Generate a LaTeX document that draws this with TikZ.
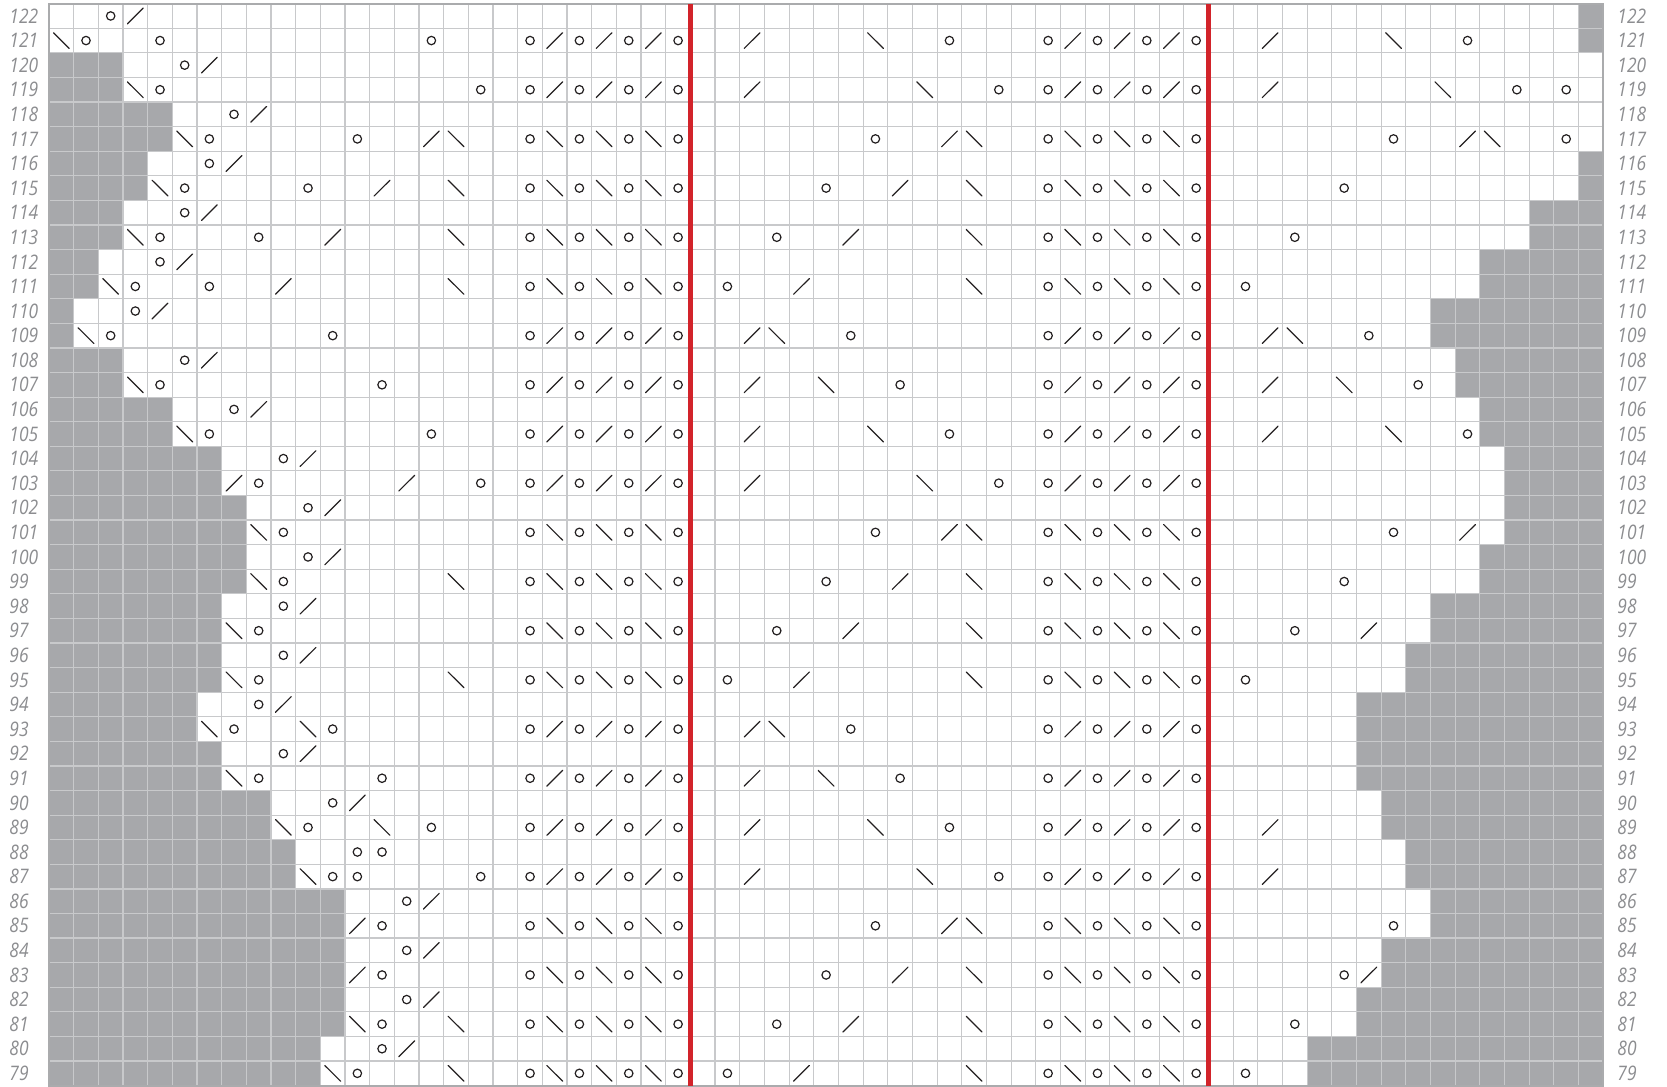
\documentclass[tikz,border=0pt]{standalone}
\usepackage{fontspec}
\newfontfamily\lblfont{Open Sans}
\definecolor{gridc}{HTML}{C8C9CB}
\definecolor{fillc}{HTML}{A7A8AB}
\definecolor{redc}{HTML}{D2232A}
\definecolor{symc}{HTML}{231F20}
\definecolor{lblc}{HTML}{8C8D90}
\tikzset{
  nostitch/.style={fill=fillc, draw=none},
  gridline/.style={draw=gridc, line width=0.6pt},
  border/.style={draw=gridc!85!black, line width=1.1pt},
  redline/.style={draw=redc, line width=2.6pt},
  yo/.style={draw=symc, line width=0.6pt},
  dec/.style={draw=symc, line width=0.6pt, line cap=round},
  rowlabel/.style={text=lblc, font=\lblfont\itshape\fontsize{10}{12}\selectfont, anchor=west, inner sep=0pt},
}
\newcommand\symO[2]{\draw[yo] (#2-0.5,#1-78.5) circle (2.1pt);}
\newcommand\symR[2]{\draw[dec] (#2-0.82,#1-78.82) -- (#2-0.18,#1-78.18);}
\newcommand\symL[2]{\draw[dec] (#2-0.82,#1-78.18) -- (#2-0.18,#1-78.82);}
\newcommand\chartrow[4]{%
  \foreach \cc in {#2}{\ifnum\cc>0 \symO{#1}{\cc}\fi}%
  \foreach \cc in {#3}{\ifnum\cc>0 \symR{#1}{\cc}\fi}%
  \foreach \cc in {#4}{\ifnum\cc>0 \symL{#1}{\cc}\fi}%
}
\newcommand\cenR[1]{%
  \foreach \cc in {20,22,24,26,41,43,45,47}{\symO{#1}{\cc}}%
  \foreach \cc in {21,23,25,42,44,46}{\symR{#1}{\cc}}%
}
\newcommand\cenL[1]{%
  \foreach \cc in {20,22,24,26,41,43,45,47}{\symO{#1}{\cc}}%
  \foreach \cc in {21,23,25,42,44,46}{\symL{#1}{\cc}}%
}
\begin{document}
\begin{tikzpicture}[x=12.335pt, y=12.295pt]
\useasboundingbox (-1.9862,-0.0529) rectangle (65.586,44.150);
\fill[white] (-1.9862,-0.0529) rectangle (65.586,44.150);
% no-stitch (gray) cells: row / gray cols on left / first gray col on right
\foreach \r/\a/\b in {122/0/63,121/0/63,120/3/64,119/3/64,118/5/64,117/5/64,116/4/63,115/4/63,
  114/3/61,113/3/61,112/2/59,111/2/59,110/1/57,109/1/57,108/3/58,107/3/58,106/5/59,105/5/59,
  104/7/60,103/7/60,102/8/60,101/8/60,100/8/59,99/8/59,98/7/57,97/7/57,96/7/56,95/7/56,
  94/6/54,93/6/54,92/7/54,91/7/54,90/9/55,89/9/55,88/10/56,87/10/56,86/12/57,85/12/57,
  84/12/55,83/12/55,82/12/54,81/12/54,80/11/52,79/11/52}{
  \ifnum\a>0 \fill[nostitch] (0,\r-79) rectangle (\a,\r-78);\fi
  \ifnum\b<64 \fill[nostitch] (\b-1,\r-79) rectangle (63,\r-78);\fi
}
% grid
\foreach \i in {1,...,62}{\draw[gridline] (\i,0) -- (\i,44);}
\foreach \j in {1,...,43}{\draw[gridline] (0,\j) -- (63,\j);}
\draw[border] (0,0) rectangle (63,44);
% red repeat lines
\draw[redline] (26,0) -- (26,44);
\draw[redline] (47,0) -- (47,44);
% symbols
\chartrow{122}{3}{4}{0}
\chartrow{121}{2,5,16,37,58}{29,50}{1,34,55} \cenR{121}
\chartrow{120}{6}{7}{0}
\chartrow{119}{5,18,39,60,62}{29,50}{4,36,57} \cenR{119}
\chartrow{118}{8}{9}{0}
\chartrow{117}{7,13,34,55,62}{16,37,58}{6,17,38,59} \cenL{117}
\chartrow{116}{7}{8}{0}
\chartrow{115}{6,11,32,53}{14,35}{5,17,38} \cenL{115}
\chartrow{114}{6}{7}{0}
\chartrow{113}{5,9,30,51}{12,33}{4,17,38} \cenL{113}
\chartrow{112}{5}{6}{0}
\chartrow{111}{4,7,28,49}{10,31}{3,17,38} \cenL{111}
\chartrow{110}{4}{5}{0}
\chartrow{109}{3,12,33,54}{29,50}{2,30,51} \cenR{109}
\chartrow{108}{6}{7}{0}
\chartrow{107}{5,14,35,56}{29,50}{4,32,53} \cenR{107}
\chartrow{106}{8}{9}{0}
\chartrow{105}{7,16,37,58}{29,50}{6,34,55} \cenR{105}
\chartrow{104}{10}{11}{0}
\chartrow{103}{9,18,39}{8,15,29}{36} \cenR{103}
\chartrow{102}{11}{12}{0}
\chartrow{101}{10,34,55}{37,58}{9,38} \cenL{101}
\chartrow{100}{11}{12}{0}
\chartrow{99}{10,32,53}{35}{9,17,38} \cenL{99}
\chartrow{98}{10}{11}{0}
\chartrow{97}{9,30,51}{33,54}{8,38} \cenL{97}
\chartrow{96}{10}{11}{0}
\chartrow{95}{9,28,49}{31}{8,17,38} \cenL{95}
\chartrow{94}{9}{10}{0}
\chartrow{93}{8,12,33}{29}{7,11,30} \cenR{93}
\chartrow{92}{10}{11}{0}
\chartrow{91}{9,14,35}{29}{8,32} \cenR{91}
\chartrow{90}{12}{13}{0}
\chartrow{89}{11,16,37}{29,50}{10,14,34} \cenR{89}
\chartrow{88}{13,14}{0}{0}
\chartrow{87}{12,13,18,39}{29,50}{11,36} \cenR{87}
\chartrow{86}{15}{16}{0}
\chartrow{85}{14,34,55}{13,37}{38} \cenL{85}
\chartrow{84}{15}{16}{0}
\chartrow{83}{14,32,53}{13,35,54}{38} \cenL{83}
\chartrow{82}{15}{16}{0}
\chartrow{81}{14,30,51}{33}{13,17,38} \cenL{81}
\chartrow{80}{14}{15}{0}
\chartrow{79}{13,28,49}{31}{12,17,38} \cenL{79}
% row numbers
\foreach \r in {79,...,122}{
  \node[rowlabel] (left\r) at (-1.62,\r-78.5) {\scalebox{0.87}[1]{\r}};
  \node[rowlabel] (right\r) at (63.56,\r-78.5) {\scalebox{0.87}[1]{\r}};
}
\end{tikzpicture}
\end{document}
